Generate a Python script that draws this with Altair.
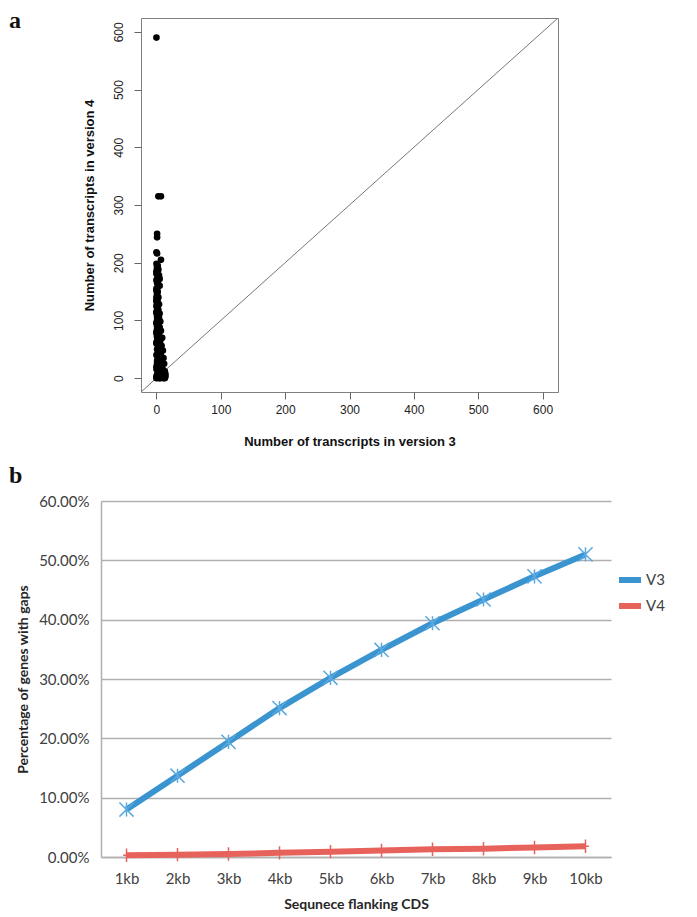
import altair as alt
import pandas as pd

# ---------------- Panel a: transcripts per gene, version 3 vs version 4 ----------------
v3_counts = [0, 3, 7, 1, 1, 0, 1, 7, 0, 2, 1, 3, 0, 4, 2, 5, 0, 1, 3, 5,
             0, 2, 1, 3, 0, 2, 4, 1, 3, 0, 5, 2, 4, 1, 6, 0, 3, 5, 2, 7,
             0, 4, 1, 9, 3, 6, 0, 2, 8, 5, 1, 10, 3, 7, 0, 4, 11, 2, 6, 9,
             1, 12, 3, 5, 8, 0, 10, 13, 2, 6, 4, 11, 14, 1, 8, 3, 12, 0, 5, 9,
             13, 2, 7, 10, 0, 4, 6, 11, 14, 1, 1, 0, 2, 0, 1, 2, 0, 1, 3, 0,
             1, 2, 0, 1, 2, 0, 1, 2, 0, 1, 2, 0, 1, 2, 0, 1, 2, 0, 1, 2,
             3, 4, 2, 3, 4, 5, 3, 4, 6, 5, 7, 6, 8, 9, 7, 10, 11, 9, 12, 13]
v4_counts = [590, 315, 315, 250, 244, 218, 216, 205, 198, 195, 190, 188, 185, 178, 175, 172, 170, 165, 162, 160,
             155, 150, 145, 140, 135, 130, 128, 122, 118, 115, 112, 108, 104, 100, 98, 95, 92, 88, 85, 82,
             80, 76, 73, 70, 68, 65, 62, 58, 56, 53, 50, 48, 45, 42, 40, 38, 35, 33, 30, 28,
             26, 25, 22, 20, 18, 16, 15, 12, 12, 10, 8, 8, 7, 6, 5, 4, 4, 3, 2, 2,
             2, 1, 1, 1, 0, 0, 0, 0, 3, 180, 110, 60, 65, 20, 30, 40, 140, 85, 10, 125,
             192, 186, 181, 168, 158, 152, 147, 137, 133, 126, 120, 113, 106, 102, 96, 90, 84, 78, 71, 66,
             55, 50, 45, 40, 34, 30, 25, 22, 18, 14, 12, 9, 7, 5, 4, 3, 2, 1, 1, 0]
diag_ends = [-24, 624]
a_ticks = [0, 100, 200, 300, 400, 500, 600]

# ---------------- Panel b: percentage of genes with gaps ----------------
flank = ["1kb", "2kb", "3kb", "4kb", "5kb", "6kb", "7kb", "8kb", "9kb", "10kb"]
pct_v3 = [8.0, 13.7, 19.4, 25.1, 30.2, 34.9, 39.4, 43.4, 47.3, 51.0]
pct_v4 = [0.3, 0.4, 0.5, 0.7, 0.9, 1.1, 1.3, 1.4, 1.6, 1.8]
series = ["V3", "V4"]
b_ticks = [0.0, 0.1, 0.2, 0.3, 0.4, 0.5, 0.6]

RFONT = "Liberation Sans"
BFONT = "Lato"

scatter_df = pd.DataFrame({"v3": v3_counts, "v4": v4_counts})
diag_df = pd.DataFrame({"v3": diag_ends, "v4": diag_ends})

xsc = alt.Scale(domain=[-24, 624], nice=False, zero=False)
ysc = alt.Scale(domain=[-24, 624], nice=False, zero=False)

x_axis_a = alt.Axis(values=a_ticks, title="Number of transcripts in version 3", grid=False,
                    domain=False, tickSize=7, tickColor="#666666", tickWidth=1,
                    labelFont=RFONT, labelFontSize=12, labelColor="#222222", labelPadding=5,
                    titleFont=RFONT, titleFontSize=13, titleFontWeight="bold", titleColor="#111111",
                    titlePadding=20)
y_axis_a = alt.Axis(values=a_ticks, title="Number of transcripts in version 4", grid=False,
                    domain=False, tickSize=7, tickColor="#666666", tickWidth=1,
                    labelFont=RFONT, labelFontSize=12, labelColor="#222222", labelPadding=9,
                    labelAngle=270, labelAlign="center", labelBaseline="bottom",
                    titleFont=RFONT, titleFontSize=13, titleFontWeight="bold", titleColor="#111111",
                    titlePadding=16)

diag = alt.Chart(diag_df).mark_line(color="#777777", strokeWidth=1, clip=True).encode(
    x=alt.X("v3:Q", scale=xsc, axis=x_axis_a),
    y=alt.Y("v4:Q", scale=ysc, axis=y_axis_a),
)
pts = alt.Chart(scatter_df).mark_circle(color="black", opacity=1, size=44).encode(
    x=alt.X("v3:Q", scale=xsc),
    y=alt.Y("v4:Q", scale=ysc),
)

panel_a = alt.layer(diag, pts).properties(
    width=417, height=374,
    title=alt.TitleParams(text="a", anchor="start", frame="group", font="Liberation Serif",
                          fontWeight="bold", fontSize=24, color="#111111", dx=-132, dy=15, offset=0),
    view=alt.ViewBackground(stroke="#808080", strokeWidth=1),
)

spacer = alt.Chart(pd.DataFrame({"s": [0]})).mark_point(opacity=0).encode(
    x=alt.value(0), y=alt.value(0)
).properties(width=40, height=374, view=alt.ViewBackground(stroke="transparent"))

top_row = alt.hconcat(spacer, panel_a, spacing=0, bounds="flush")

# panel b data
rows = []
for c, a3, a4 in zip(flank, pct_v3, pct_v4):
    rows.append({"flank": c, "series": "V3", "pct": a3 / 100.0})
    rows.append({"flank": c, "series": "V4", "pct": a4 / 100.0})
b_df = pd.DataFrame(rows)

xb = alt.X("flank:N", sort=flank, scale=alt.Scale(paddingInner=0, paddingOuter=0),
           axis=alt.Axis(title="Sequnece flanking CDS", labelAngle=0, ticks=False, domain=True,
                         domainColor="#b0b0b0", domainWidth=1.5,
                         labelFont=BFONT, labelFontSize=15, labelColor="#404040", labelPadding=14,
                         titleFont=BFONT, titleFontSize=14, titleFontWeight="bold", titleColor="#262626",
                         titlePadding=11))
yb = alt.Y("pct:Q", scale=alt.Scale(domain=[0, 0.6], nice=False),
           axis=alt.Axis(values=b_ticks, format=".2%", title="Percentage of genes with gaps",
                         ticks=False, domain=True, domainColor="#b0b0b0", domainWidth=1.5,
                         grid=True, gridColor="#b0b0b0", gridWidth=1.5,
                         labelFont=BFONT, labelFontSize=15, labelColor="#404040", labelPadding=12,
                         titleFont=BFONT, titleFontSize=14, titleFontWeight="bold", titleColor="#262626",
                         titlePadding=8))

colors = ["#3A94D0", "#E8625C"]

lines = alt.Chart(b_df).mark_line(strokeWidth=6).encode(
    x=xb, y=yb,
    color=alt.Color("series:N", scale=alt.Scale(domain=series, range=colors),
                    legend=alt.Legend(orient="none", legendX=515, legendY=65, title=None,
                                      symbolType="stroke", symbolStrokeWidth=6, symbolSize=484,
                                      labelFont=BFONT, labelFontSize=15, labelColor="#404040",
                                      rowPadding=0, labelOffset=2)),
)
star_v3 = alt.Chart(b_df).transform_filter(alt.datum.series == "V3").mark_point(
    shape="M -1 -1 L 1 1 M -1 1 L 1 -1 M 0 -1 L 0 1", filled=False, stroke="#5AA9E0",
    strokeWidth=1.5, size=200, opacity=1
).encode(x=alt.X("flank:N", sort=flank), y="pct:Q")
plus_v4 = alt.Chart(b_df).transform_filter(alt.datum.series == "V4").mark_point(
    shape="M 0 -1 L 0 1 M -0.5 0 L 0.5 0", filled=False, stroke="#E8625C",
    strokeWidth=1.5, size=180, opacity=1
).encode(x=alt.X("flank:N", sort=flank), y="pct:Q")

panel_b = alt.layer(lines, star_v3, plus_v4).properties(
    width=510, height=356,
    title=alt.TitleParams(text="b", anchor="start", frame="group", font="Liberation Serif",
                          fontWeight="bold", fontSize=24, color="#111111", dx=-92, offset=6),
    view=alt.ViewBackground(stroke="transparent"),
)

chart = alt.vconcat(top_row, panel_b, spacing=14).resolve_legend(color="independent").properties(
    padding=0, background="white")

chart.save("out.html", embed_options={"renderer": "svg", "actions": False})
